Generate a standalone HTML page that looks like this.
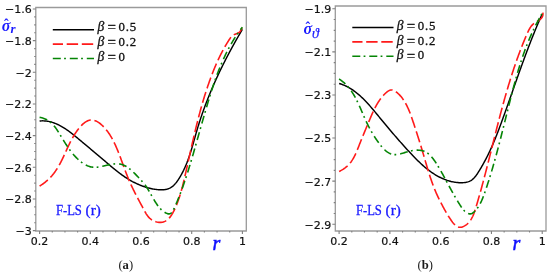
<!DOCTYPE html>
<html><head><meta charset="utf-8"><title>Stress distribution plots</title>
<style>
html,body{margin:0;padding:0;background:#fff;}
body{width:550px;height:277px;overflow:hidden;}
svg{display:block;}
.tl{font-family:"DejaVu Sans","Liberation Sans",sans-serif;font-size:11px;fill:#111;stroke:#111;stroke-width:0.2px;}
.lg{font-family:"Liberation Serif",serif;font-size:12.8px;fill:#111;stroke:#111;stroke-width:0.3px;}
.eq{font-size:15px;}
.num{letter-spacing:0.8px;}
.bt{font-style:italic;font-size:13.6px;}
.sg{font-family:"Liberation Serif",serif;font-style:italic;font-weight:bold;font-size:16px;fill:#1a1aff;}
.sub{font-family:"Liberation Serif",serif;font-style:italic;font-weight:bold;font-size:13px;fill:#1a1aff;}
.th{font-weight:normal;font-size:14px;stroke:#1a1aff;stroke-width:0.25px;}
.hat{font-family:"Liberation Serif",serif;font-weight:bold;font-size:14px;fill:#1a1aff;}
.rl{font-family:"Liberation Serif",serif;font-style:italic;font-size:20px;fill:#1010ff;stroke:#1010ff;stroke-width:0.5px;}
.fl{font-family:"Liberation Serif",serif;font-size:14.6px;fill:#1a1aff;stroke:#1a1aff;stroke-width:0.3px;}
.ab{font-family:"Liberation Serif",serif;font-size:12.6px;fill:#1a1a1a;}
.ab tspan{font-weight:bold;}
.cb{fill:none;stroke:#000;stroke-width:1.45;}
.cr{fill:none;stroke:#ff1a1a;stroke-width:1.6;stroke-dasharray:11.4 3.7;stroke-dashoffset:1.2;}
.cg{fill:none;stroke:#058505;stroke-width:1.6;stroke-dasharray:8 3.3 1.8 3.9;}
</style></head>
<body>
<svg width="550" height="277" viewBox="0 0 550 277">
<path d="M35.8,7.5 H246.3 V231.0 H35.8 Z" fill="none" stroke="#9a9a9a" stroke-width="1.3"/>
<path d="M32.8,9.00 h3.0 M34.2,16.92 h1.6 M34.2,24.83 h1.6 M34.2,32.74 h1.6 M32.8,40.66 h3.0 M34.2,48.58 h1.6 M34.2,56.49 h1.6 M34.2,64.41 h1.6 M32.8,72.32 h3.0 M34.2,80.24 h1.6 M34.2,88.15 h1.6 M34.2,96.07 h1.6 M32.8,103.98 h3.0 M34.2,111.89 h1.6 M34.2,119.81 h1.6 M34.2,127.73 h1.6 M32.8,135.64 h3.0 M34.2,143.56 h1.6 M34.2,151.47 h1.6 M34.2,159.39 h1.6 M32.8,167.30 h3.0 M34.2,175.22 h1.6 M34.2,183.13 h1.6 M34.2,191.04 h1.6 M32.8,198.96 h3.0 M34.2,206.88 h1.6 M34.2,214.79 h1.6 M34.2,222.71 h1.6 M32.8,230.62 h3.0 M39.60,231.0 v3.0 M52.27,231.0 v1.6 M64.95,231.0 v1.6 M77.62,231.0 v1.6 M90.30,231.0 v3.0 M102.97,231.0 v1.6 M115.65,231.0 v1.6 M128.33,231.0 v1.6 M141.00,231.0 v3.0 M153.68,231.0 v1.6 M166.35,231.0 v1.6 M179.03,231.0 v1.6 M191.70,231.0 v3.0 M204.38,231.0 v1.6 M217.05,231.0 v1.6 M229.72,231.0 v1.6 M242.40,231.0 v3.0" stroke="#808080" stroke-width="1.1" fill="none"/>
<text x="31.8" y="13.4" class="tl" text-anchor="end">−1.6</text>
<text x="31.8" y="45.1" class="tl" text-anchor="end">−1.8</text>
<text x="31.8" y="76.7" class="tl" text-anchor="end">−2</text>
<text x="31.8" y="108.4" class="tl" text-anchor="end">−2.2</text>
<text x="31.8" y="140.0" class="tl" text-anchor="end">−2.4</text>
<text x="31.8" y="171.7" class="tl" text-anchor="end">−2.6</text>
<text x="31.8" y="203.4" class="tl" text-anchor="end">−2.8</text>
<text x="31.8" y="235.0" class="tl" text-anchor="end">−3</text>
<text x="39.6" y="244.6" class="tl" text-anchor="middle">0.2</text>
<text x="90.3" y="244.6" class="tl" text-anchor="middle">0.4</text>
<text x="141.0" y="244.6" class="tl" text-anchor="middle">0.6</text>
<text x="191.7" y="244.6" class="tl" text-anchor="middle">0.8</text>
<text x="242.4" y="244.6" class="tl" text-anchor="middle">1</text>
<path d="M335.3,6.0 H546.0 V231.0 H335.3 Z" fill="none" stroke="#9a9a9a" stroke-width="1.3"/>
<path d="M332.3,8.80 h3.0 M333.7,19.57 h1.6 M333.7,30.34 h1.6 M333.7,41.11 h1.6 M332.3,51.88 h3.0 M333.7,62.65 h1.6 M333.7,73.42 h1.6 M333.7,84.19 h1.6 M332.3,94.96 h3.0 M333.7,105.73 h1.6 M333.7,116.50 h1.6 M333.7,127.27 h1.6 M332.3,138.04 h3.0 M333.7,148.81 h1.6 M333.7,159.58 h1.6 M333.7,170.35 h1.6 M332.3,181.12 h3.0 M333.7,191.89 h1.6 M333.7,202.66 h1.6 M333.7,213.43 h1.6 M332.3,224.20 h3.0 M339.10,231.0 v3.0 M351.80,231.0 v1.6 M364.49,231.0 v1.6 M377.19,231.0 v1.6 M389.88,231.0 v3.0 M402.58,231.0 v1.6 M415.27,231.0 v1.6 M427.97,231.0 v1.6 M440.66,231.0 v3.0 M453.36,231.0 v1.6 M466.05,231.0 v1.6 M478.75,231.0 v1.6 M491.44,231.0 v3.0 M504.14,231.0 v1.6 M516.83,231.0 v1.6 M529.53,231.0 v1.6 M542.22,231.0 v3.0" stroke="#808080" stroke-width="1.1" fill="none"/>
<text x="331.3" y="13.2" class="tl" text-anchor="end">−1.9</text>
<text x="331.3" y="56.3" class="tl" text-anchor="end">−2.1</text>
<text x="331.3" y="99.4" class="tl" text-anchor="end">−2.3</text>
<text x="331.3" y="142.4" class="tl" text-anchor="end">−2.5</text>
<text x="331.3" y="185.5" class="tl" text-anchor="end">−2.7</text>
<text x="331.3" y="228.6" class="tl" text-anchor="end">−2.9</text>
<text x="339.1" y="244.6" class="tl" text-anchor="middle">0.2</text>
<text x="389.9" y="244.6" class="tl" text-anchor="middle">0.4</text>
<text x="440.7" y="244.6" class="tl" text-anchor="middle">0.6</text>
<text x="491.4" y="244.6" class="tl" text-anchor="middle">0.8</text>
<text x="542.2" y="244.6" class="tl" text-anchor="middle">1</text>
<path d="M39.60,120.99 40.62,120.91 41.63,120.86 42.63,120.84 43.63,120.86 44.62,120.91 45.60,120.99 46.57,121.10 47.54,121.24 48.49,121.40 49.45,121.60 50.39,121.82 51.33,122.07 52.26,122.34 53.19,122.64 54.11,122.97 55.02,123.31 55.93,123.68 56.83,124.07 57.73,124.47 58.62,124.90 59.50,125.35 60.38,125.82 61.25,126.30 62.12,126.80 62.98,127.31 63.84,127.84 64.69,128.38 65.54,128.94 66.38,129.51 67.22,130.09 68.06,130.68 68.89,131.28 69.71,131.89 70.53,132.51 71.35,133.13 72.16,133.76 72.97,134.40 73.78,135.04 74.58,135.69 75.38,136.34 76.18,136.99 76.97,137.65 77.76,138.30 78.54,138.96 79.33,139.61 80.11,140.26 80.88,140.91 81.66,141.56 82.43,142.21 83.20,142.85 83.97,143.49 84.73,144.13 85.50,144.77 86.26,145.40 87.02,146.04 87.77,146.67 88.53,147.30 89.29,147.93 90.04,148.56 90.79,149.19 91.54,149.82 92.29,150.44 93.04,151.07 93.79,151.70 94.54,152.32 95.28,152.95 96.03,153.58 96.78,154.20 97.52,154.83 98.27,155.46 99.01,156.09 99.76,156.72 100.50,157.35 101.25,157.99 102.00,158.62 102.74,159.26 103.49,159.89 104.24,160.53 104.99,161.17 105.74,161.82 106.49,162.46 107.24,163.11 108.00,163.75 108.75,164.40 109.51,165.04 110.27,165.69 111.04,166.33 111.80,166.97 112.57,167.61 113.35,168.25 114.12,168.89 114.90,169.52 115.69,170.15 116.47,170.78 117.26,171.40 118.06,172.02 118.86,172.63 119.67,173.24 120.48,173.85 121.29,174.45 122.11,175.04 122.94,175.62 123.77,176.20 124.61,176.78 125.46,177.34 126.31,177.90 127.17,178.45 128.03,178.99 128.91,179.52 129.79,180.04 130.68,180.56 131.57,181.06 132.47,181.56 133.39,182.04 134.31,182.51 135.24,182.97 136.17,183.42 137.12,183.86 138.07,184.28 139.02,184.69 139.98,185.09 140.95,185.48 141.92,185.85 142.89,186.20 143.87,186.55 144.85,186.87 145.83,187.19 146.81,187.48 147.80,187.77 148.78,188.03 149.76,188.28 150.74,188.51 151.72,188.72 152.69,188.92 153.67,189.10 154.64,189.26 155.60,189.40 156.56,189.52 157.51,189.62 158.46,189.70 159.40,189.77 160.34,189.80 161.26,189.82 162.18,189.80 163.08,189.76 163.98,189.68 164.86,189.57 165.73,189.43 166.59,189.24 167.44,189.02 168.26,188.75 169.08,188.44 169.88,188.08 170.66,187.67 171.42,187.21 172.16,186.69 172.89,186.12 173.59,185.50 174.28,184.83 174.95,184.12 175.60,183.37 176.23,182.58 176.85,181.77 177.45,180.93 178.04,180.07 178.61,179.20 179.17,178.32 179.71,177.44 180.25,176.55 180.77,175.66 181.27,174.76 181.77,173.86 182.25,172.96 182.72,172.05 183.18,171.14 183.64,170.23 184.07,169.31 184.50,168.39 184.92,167.47 185.33,166.55 185.74,165.62 186.13,164.69 186.51,163.75 186.89,162.82 187.25,161.88 187.61,160.94 187.96,160.00 188.31,159.05 188.65,158.11 188.98,157.16 189.31,156.21 189.63,155.26 189.94,154.30 190.25,153.35 190.56,152.39 190.86,151.43 191.15,150.48 191.45,149.52 191.73,148.55 192.02,147.59 192.30,146.63 192.58,145.67 192.86,144.70 193.14,143.74 193.41,142.77 193.68,141.81 193.95,140.84 194.23,139.88 194.50,138.91 194.77,137.95 195.04,136.98 195.31,136.01 195.58,135.05 195.85,134.09 196.13,133.12 196.40,132.16 196.68,131.20 196.96,130.23 197.25,129.27 197.53,128.31 197.82,127.35 198.11,126.40 198.41,125.44 198.71,124.48 199.01,123.53 199.31,122.58 199.61,121.62 199.92,120.67 200.23,119.72 200.55,118.77 200.86,117.82 201.18,116.87 201.50,115.92 201.83,114.98 202.15,114.03 202.48,113.09 202.81,112.14 203.15,111.20 203.48,110.26 203.82,109.32 204.16,108.38 204.51,107.44 204.85,106.50 205.20,105.56 205.55,104.63 205.91,103.69 206.26,102.76 206.62,101.83 206.98,100.89 207.35,99.96 207.71,99.03 208.08,98.10 208.45,97.17 208.82,96.25 209.20,95.32 209.57,94.40 209.95,93.47 210.34,92.55 210.72,91.62 211.11,90.70 211.49,89.78 211.88,88.86 212.28,87.94 212.67,87.02 213.07,86.11 213.47,85.19 213.87,84.28 214.27,83.36 214.68,82.45 215.09,81.54 215.50,80.63 215.91,79.72 216.32,78.81 216.74,77.90 217.16,76.99 217.58,76.08 218.00,75.18 218.42,74.27 218.85,73.37 219.28,72.47 219.71,71.56 220.14,70.66 220.57,69.76 221.01,68.86 221.45,67.97 221.89,67.07 222.33,66.17 222.77,65.28 223.22,64.38 223.66,63.49 224.11,62.60 224.56,61.71 225.01,60.82 225.47,59.93 225.92,59.04 226.38,58.15 226.84,57.26 227.30,56.38 227.77,55.49 228.23,54.61 228.70,53.73 229.16,52.84 229.63,51.96 230.10,51.08 230.58,50.20 231.05,49.32 231.53,48.45 232.00,47.57 232.48,46.70 232.96,45.82 233.45,44.95 233.93,44.07 234.42,43.20 234.90,42.33 235.39,41.46 235.88,40.59 236.37,39.73 236.86,38.86 237.36,37.99 237.85,37.13 238.35,36.26 238.85,35.40 239.35,34.54 239.85,33.68 240.35,32.82 240.86,31.96 241.36,31.10 241.87,30.24 242.37,29.39" class="cb"/>
<path d="M39.60,186.02 40.52,185.47 41.42,184.90 42.29,184.32 43.14,183.73 43.97,183.13 44.79,182.51 45.58,181.88 46.35,181.24 47.11,180.58 47.84,179.92 48.56,179.24 49.26,178.56 49.95,177.86 50.62,177.15 51.27,176.43 51.91,175.71 52.53,174.97 53.14,174.22 53.74,173.47 54.32,172.70 54.88,171.93 55.44,171.14 55.98,170.35 56.52,169.56 57.04,168.75 57.55,167.94 58.05,167.12 58.54,166.29 59.02,165.46 59.49,164.61 59.95,163.77 60.41,162.91 60.86,162.06 61.30,161.19 61.74,160.32 62.17,159.45 62.59,158.57 63.01,157.69 63.43,156.80 63.84,155.91 64.25,155.01 64.67,154.11 65.08,153.21 65.49,152.30 65.90,151.40 66.31,150.49 66.73,149.57 67.15,148.66 67.57,147.74 68.00,146.82 68.44,145.90 68.88,144.98 69.32,144.06 69.78,143.14 70.24,142.22 70.72,141.29 71.20,140.37 71.70,139.45 72.20,138.53 72.72,137.61 73.25,136.69 73.80,135.77 74.36,134.86 74.94,133.94 75.53,133.03 76.14,132.12 76.76,131.22 77.41,130.32 78.06,129.44 78.74,128.57 79.42,127.73 80.12,126.90 80.83,126.11 81.56,125.35 82.30,124.62 83.04,123.93 83.80,123.28 84.57,122.68 85.35,122.13 86.13,121.63 86.92,121.19 87.72,120.81 88.53,120.49 89.34,120.25 90.16,120.07 90.98,119.97 91.81,119.95 92.64,120.02 93.47,120.16 94.30,120.37 95.13,120.65 95.95,120.99 96.77,121.40 97.59,121.85 98.40,122.36 99.20,122.91 99.98,123.50 100.76,124.13 101.52,124.78 102.27,125.47 102.99,126.17 103.70,126.89 104.40,127.63 105.08,128.38 105.74,129.15 106.38,129.94 107.01,130.74 107.63,131.55 108.22,132.38 108.81,133.22 109.38,134.07 109.94,134.93 110.48,135.81 111.01,136.69 111.53,137.58 112.04,138.48 112.54,139.39 113.02,140.30 113.49,141.22 113.96,142.15 114.41,143.08 114.85,144.01 115.29,144.95 115.71,145.89 116.13,146.83 116.54,147.77 116.94,148.71 117.34,149.66 117.73,150.60 118.11,151.54 118.48,152.48 118.85,153.41 119.22,154.35 119.58,155.28 119.93,156.22 120.29,157.15 120.64,158.08 120.98,159.01 121.32,159.94 121.66,160.87 122.00,161.79 122.34,162.72 122.67,163.64 123.01,164.56 123.34,165.49 123.68,166.41 124.01,167.33 124.35,168.25 124.68,169.16 125.02,170.08 125.36,171.00 125.70,171.91 126.05,172.83 126.40,173.74 126.75,174.65 127.11,175.57 127.47,176.48 127.84,177.39 128.21,178.30 128.58,179.21 128.97,180.11 129.36,181.02 129.75,181.93 130.15,182.84 130.56,183.74 130.97,184.65 131.39,185.55 131.82,186.45 132.25,187.36 132.68,188.26 133.12,189.16 133.56,190.06 134.01,190.97 134.46,191.87 134.91,192.77 135.37,193.67 135.83,194.57 136.30,195.47 136.77,196.37 137.24,197.26 137.71,198.16 138.18,199.06 138.66,199.96 139.14,200.85 139.61,201.75 140.10,202.65 140.58,203.54 141.06,204.44 141.54,205.34 142.03,206.23 142.51,207.13 142.99,208.02 143.48,208.92 143.96,209.81 144.44,210.71 144.93,211.60 145.43,212.48 145.94,213.35 146.47,214.20 147.02,215.03 147.60,215.84 148.21,216.62 148.87,217.37 149.56,218.08 150.30,218.75 151.10,219.38 151.95,219.96 152.86,220.49 153.83,220.96 154.83,221.38 155.87,221.73 156.92,222.01 157.97,222.22 159.02,222.36 160.03,222.41 161.01,222.39 161.96,222.28 162.86,222.10 163.74,221.84 164.58,221.52 165.38,221.13 166.16,220.68 166.91,220.18 167.62,219.61 168.31,219.00 168.98,218.34 169.61,217.63 170.23,216.88 170.82,216.10 171.38,215.28 171.93,214.43 172.45,213.56 172.96,212.66 173.45,211.75 173.92,210.81 174.38,209.87 174.83,208.92 175.26,207.96 175.67,207.00 176.08,206.04 176.48,205.08 176.86,204.12 177.24,203.16 177.60,202.20 177.96,201.24 178.31,200.28 178.65,199.32 178.97,198.36 179.30,197.40 179.61,196.44 179.91,195.48 180.21,194.52 180.50,193.56 180.79,192.60 181.06,191.65 181.34,190.69 181.60,189.73 181.86,188.77 182.12,187.81 182.37,186.85 182.62,185.89 182.86,184.93 183.10,183.97 183.33,183.00 183.57,182.04 183.80,181.08 184.02,180.12 184.25,179.16 184.47,178.19 184.69,177.23 184.91,176.26 185.13,175.30 185.35,174.33 185.57,173.37 185.79,172.40 186.01,171.44 186.23,170.47 186.44,169.50 186.66,168.53 186.88,167.56 187.09,166.59 187.31,165.63 187.53,164.66 187.74,163.69 187.96,162.71 188.18,161.74 188.39,160.77 188.61,159.80 188.82,158.83 189.04,157.86 189.26,156.89 189.47,155.91 189.69,154.94 189.91,153.97 190.12,152.99 190.34,152.02 190.56,151.05 190.77,150.07 190.99,149.10 191.21,148.13 191.43,147.15 191.65,146.18 191.87,145.20 192.09,144.23 192.31,143.26 192.54,142.28 192.76,141.31 192.98,140.33 193.21,139.36 193.43,138.38 193.66,137.41 193.89,136.44 194.11,135.46 194.34,134.49 194.57,133.51 194.80,132.54 195.03,131.57 195.27,130.59 195.50,129.62 195.73,128.65 195.97,127.68 196.21,126.70 196.45,125.73 196.69,124.76 196.93,123.79 197.17,122.82 197.41,121.85 197.66,120.88 197.91,119.90 198.15,118.93 198.40,117.97 198.66,117.00 198.91,116.03 199.16,115.06 199.42,114.09 199.68,113.12 199.94,112.16 200.20,111.19 200.46,110.22 200.73,109.26 200.99,108.29 201.26,107.33 201.53,106.37 201.81,105.40 202.08,104.44 202.36,103.48 202.64,102.52 202.92,101.56 203.20,100.59 203.49,99.64 203.77,98.68 204.06,97.72 204.36,96.76 204.65,95.80 204.95,94.85 205.25,93.89 205.55,92.94 205.85,91.99 206.16,91.03 206.47,90.08 206.78,89.13 207.10,88.18 207.41,87.23 207.73,86.28 208.06,85.34 208.38,84.39 208.71,83.44 209.04,82.50 209.37,81.56 209.71,80.61 210.05,79.67 210.39,78.73 210.74,77.79 211.09,76.85 211.44,75.92 211.79,74.98 212.15,74.04 212.51,73.11 212.88,72.18 213.25,71.25 213.62,70.32 213.99,69.39 214.37,68.46 214.76,67.54 215.14,66.62 215.54,65.70 215.93,64.78 216.33,63.86 216.73,62.94 217.14,62.03 217.56,61.12 217.97,60.21 218.39,59.30 218.82,58.40 219.25,57.50 219.69,56.60 220.13,55.70 220.57,54.81 221.02,53.92 221.48,53.03 221.94,52.14 222.40,51.26 222.88,50.37 223.35,49.50 223.84,48.62 224.32,47.75 224.82,46.88 225.32,46.02 225.82,45.15 226.33,44.29 226.85,43.44 227.37,42.59 227.90,41.74 228.44,40.89 228.98,40.05 229.53,39.21 230.09,38.39 230.67,37.60 231.28,36.85 231.93,36.16 232.63,35.55 233.38,35.03 234.18,34.60 235.02,34.24 235.88,33.91 236.74,33.58 237.58,33.23 238.38,32.83 239.13,32.35 239.80,31.75 240.38,31.03 240.89,30.22 241.34,29.31 241.72,28.34 242.05,27.32 242.34,26.26 242.59,25.19" class="cr"/>
<path d="M39.59,117.39 40.68,117.58 41.74,117.81 42.75,118.09 43.73,118.40 44.67,118.75 45.58,119.15 46.45,119.58 47.30,120.04 48.12,120.54 48.91,121.07 49.67,121.63 50.40,122.21 51.12,122.83 51.81,123.48 52.48,124.15 53.13,124.84 53.76,125.55 54.38,126.29 54.98,127.05 55.57,127.82 56.14,128.61 56.70,129.42 57.26,130.24 57.80,131.07 58.34,131.92 58.88,132.77 59.41,133.63 59.94,134.50 60.46,135.38 60.99,136.26 61.52,137.14 62.05,138.03 62.59,138.91 63.13,139.80 63.67,140.68 64.22,141.56 64.77,142.44 65.33,143.32 65.90,144.19 66.47,145.06 67.04,145.93 67.62,146.79 68.21,147.64 68.80,148.49 69.41,149.33 70.01,150.16 70.63,150.98 71.25,151.79 71.88,152.59 72.52,153.38 73.17,154.16 73.82,154.92 74.48,155.67 75.16,156.41 75.84,157.14 76.53,157.84 77.23,158.54 77.94,159.21 78.66,159.87 79.39,160.51 80.14,161.14 80.89,161.74 81.65,162.32 82.43,162.88 83.22,163.42 84.01,163.94 84.83,164.42 85.65,164.88 86.48,165.30 87.33,165.69 88.20,166.04 89.07,166.35 89.96,166.62 90.86,166.85 91.78,167.03 92.71,167.16 93.65,167.25 94.61,167.28 95.59,167.27 96.57,167.21 97.56,167.12 98.57,167.00 99.58,166.84 100.60,166.67 101.63,166.47 102.66,166.25 103.70,166.03 104.74,165.79 105.78,165.55 106.82,165.31 107.86,165.07 108.90,164.85 109.94,164.63 110.98,164.43 112.01,164.25 113.04,164.10 114.06,163.97 115.07,163.88 116.07,163.83 117.06,163.81 118.04,163.84 119.01,163.92 119.97,164.06 120.91,164.25 121.84,164.49 122.75,164.80 123.65,165.16 124.54,165.56 125.41,166.01 126.27,166.51 127.11,167.04 127.94,167.60 128.76,168.20 129.56,168.82 130.35,169.47 131.13,170.14 131.90,170.83 132.66,171.54 133.40,172.25 134.14,172.97 134.86,173.69 135.57,174.42 136.27,175.14 136.96,175.85 137.64,176.56 138.31,177.25 138.97,177.94 139.62,178.62 140.26,179.30 140.89,179.99 141.51,180.67 142.13,181.36 142.73,182.06 143.33,182.77 143.92,183.49 144.50,184.23 145.08,184.99 145.64,185.76 146.20,186.57 146.76,187.40 147.31,188.25 147.85,189.12 148.39,190.01 148.92,190.92 149.46,191.84 149.99,192.78 150.53,193.72 151.06,194.68 151.60,195.63 152.14,196.59 152.68,197.55 153.23,198.50 153.79,199.45 154.35,200.40 154.92,201.33 155.50,202.25 156.09,203.16 156.69,204.05 157.30,204.92 157.92,205.77 158.56,206.59 159.21,207.39 159.88,208.16 160.57,208.90 161.27,209.60 161.99,210.27 162.73,210.90 163.49,211.49 164.28,212.04 165.08,212.54 165.91,212.99 166.75,213.38 167.57,213.66 168.38,213.84 169.14,213.87 169.84,213.74 170.49,213.47 171.09,213.06 171.64,212.54 172.16,211.91 172.65,211.20 173.11,210.42 173.54,209.59 173.97,208.72 174.38,207.82 174.78,206.92 175.19,206.02 175.59,205.11 175.99,204.20 176.38,203.29 176.77,202.37 177.16,201.45 177.54,200.53 177.92,199.60 178.30,198.68 178.67,197.74 179.05,196.81 179.41,195.88 179.78,194.94 180.14,194.00 180.50,193.06 180.86,192.11 181.21,191.17 181.57,190.22 181.91,189.27 182.26,188.32 182.60,187.37 182.95,186.41 183.28,185.45 183.62,184.50 183.96,183.54 184.29,182.57 184.62,181.61 184.94,180.65 185.27,179.68 185.59,178.72 185.91,177.75 186.23,176.78 186.54,175.81 186.86,174.85 187.17,173.87 187.48,172.90 187.79,171.93 188.10,170.96 188.40,169.99 188.70,169.02 189.00,168.04 189.30,167.07 189.60,166.10 189.90,165.12 190.19,164.15 190.49,163.17 190.78,162.20 191.07,161.23 191.36,160.26 191.64,159.28 191.93,158.31 192.22,157.34 192.50,156.37 192.78,155.40 193.06,154.43 193.34,153.46 193.62,152.49 193.90,151.52 194.18,150.56 194.46,149.59 194.73,148.63 195.01,147.67 195.28,146.71 195.55,145.75 195.83,144.79 196.10,143.83 196.37,142.87 196.64,141.92 196.91,140.97 197.18,140.01 197.45,139.06 197.72,138.11 197.99,137.16 198.25,136.21 198.52,135.27 198.79,134.32 199.06,133.37 199.33,132.43 199.59,131.48 199.86,130.54 200.13,129.59 200.39,128.65 200.66,127.70 200.93,126.76 201.20,125.82 201.46,124.87 201.73,123.93 202.00,122.99 202.27,122.04 202.54,121.10 202.81,120.15 203.08,119.21 203.35,118.26 203.62,117.32 203.89,116.37 204.16,115.42 204.43,114.48 204.71,113.53 204.98,112.58 205.26,111.63 205.53,110.68 205.81,109.73 206.09,108.77 206.37,107.82 206.65,106.87 206.93,105.91 207.21,104.95 207.49,104.00 207.78,103.04 208.06,102.08 208.35,101.12 208.64,100.16 208.93,99.20 209.22,98.24 209.51,97.28 209.81,96.32 210.11,95.36 210.40,94.40 210.71,93.44 211.01,92.48 211.31,91.52 211.62,90.56 211.93,89.60 212.24,88.64 212.55,87.68 212.87,86.73 213.19,85.77 213.51,84.81 213.83,83.85 214.15,82.90 214.48,81.94 214.81,80.99 215.15,80.04 215.48,79.09 215.82,78.14 216.16,77.19 216.51,76.24 216.86,75.29 217.21,74.35 217.56,73.40 217.92,72.46 218.28,71.52 218.64,70.58 219.01,69.64 219.38,68.71 219.76,67.77 220.13,66.84 220.52,65.91 220.90,64.98 221.29,64.06 221.68,63.13 222.08,62.21 222.48,61.29 222.88,60.38 223.29,59.46 223.71,58.55 224.12,57.64 224.54,56.74 224.97,55.83 225.40,54.93 225.83,54.03 226.27,53.14 226.71,52.25 227.16,51.36 227.61,50.47 228.07,49.59 228.53,48.71 229.00,47.83 229.47,46.96 229.95,46.09 230.43,45.23 230.91,44.36 231.40,43.51 231.90,42.65 232.40,41.80 232.91,40.95 233.42,40.11 233.94,39.27 234.46,38.44 234.99,37.60 235.53,36.78 236.07,35.95 236.61,35.14 237.17,34.32 237.72,33.51 238.29,32.71 238.86,31.91 239.43,31.11 240.01,30.32 240.60,29.54 241.19,28.76 241.79,27.98 242.40,27.21" class="cg"/>
<path d="M339.11,83.50 340.05,83.77 340.97,84.06 341.89,84.37 342.79,84.71 343.69,85.06 344.58,85.44 345.46,85.84 346.33,86.25 347.20,86.69 348.05,87.14 348.90,87.61 349.75,88.10 350.58,88.60 351.41,89.13 352.23,89.66 353.04,90.22 353.85,90.79 354.64,91.37 355.44,91.97 356.22,92.58 357.00,93.20 357.77,93.84 358.54,94.49 359.30,95.15 360.06,95.82 360.81,96.50 361.55,97.19 362.29,97.89 363.02,98.60 363.75,99.32 364.47,100.05 365.19,100.79 365.90,101.53 366.61,102.28 367.31,103.03 368.01,103.79 368.70,104.56 369.39,105.33 370.08,106.11 370.76,106.89 371.44,107.67 372.11,108.46 372.79,109.24 373.45,110.03 374.12,110.83 374.78,111.62 375.44,112.41 376.09,113.20 376.74,113.99 377.39,114.78 378.04,115.57 378.68,116.36 379.32,117.15 379.96,117.93 380.60,118.71 381.24,119.48 381.87,120.25 382.51,121.02 383.14,121.78 383.77,122.54 384.39,123.30 385.02,124.06 385.65,124.81 386.27,125.56 386.90,126.31 387.52,127.05 388.15,127.79 388.77,128.53 389.39,129.27 390.01,130.01 390.64,130.74 391.26,131.48 391.88,132.21 392.51,132.94 393.13,133.67 393.76,134.39 394.38,135.12 395.01,135.85 395.64,136.57 396.27,137.30 396.90,138.02 397.53,138.75 398.16,139.47 398.80,140.19 399.43,140.92 400.07,141.64 400.71,142.36 401.36,143.09 402.00,143.81 402.65,144.54 403.30,145.26 403.95,145.99 404.61,146.72 405.27,147.45 405.93,148.18 406.60,148.91 407.26,149.64 407.94,150.38 408.61,151.11 409.29,151.85 409.98,152.59 410.66,153.33 411.36,154.07 412.05,154.81 412.75,155.55 413.46,156.29 414.17,157.03 414.88,157.76 415.60,158.49 416.32,159.22 417.05,159.95 417.78,160.67 418.52,161.39 419.26,162.10 420.01,162.81 420.76,163.51 421.52,164.21 422.28,164.90 423.05,165.59 423.83,166.27 424.61,166.94 425.40,167.60 426.19,168.25 426.99,168.90 427.80,169.54 428.61,170.16 429.43,170.78 430.25,171.38 431.09,171.98 431.92,172.56 432.77,173.14 433.62,173.70 434.48,174.24 435.35,174.78 436.22,175.30 437.10,175.81 437.99,176.30 438.89,176.78 439.79,177.24 440.70,177.69 441.62,178.12 442.54,178.53 443.47,178.93 444.41,179.31 445.35,179.67 446.29,180.02 447.25,180.35 448.20,180.65 449.16,180.94 450.13,181.21 451.10,181.46 452.07,181.68 453.05,181.89 454.03,182.08 455.01,182.24 455.99,182.38 456.97,182.50 457.95,182.59 458.92,182.66 459.88,182.71 460.83,182.73 461.76,182.73 462.68,182.70 463.59,182.64 464.47,182.56 465.34,182.45 466.19,182.31 467.02,182.12 467.83,181.90 468.63,181.63 469.41,181.32 470.17,180.95 470.92,180.53 471.65,180.05 472.37,179.51 473.07,178.90 473.76,178.24 474.43,177.52 475.09,176.75 475.74,175.94 476.37,175.09 476.99,174.22 477.60,173.32 478.20,172.41 478.79,171.48 479.36,170.55 479.92,169.62 480.48,168.70 481.02,167.78 481.56,166.86 482.08,165.96 482.60,165.05 483.11,164.15 483.61,163.25 484.10,162.36 484.59,161.46 485.07,160.57 485.54,159.68 486.01,158.79 486.47,157.89 486.93,157.00 487.38,156.10 487.82,155.21 488.26,154.31 488.70,153.41 489.13,152.51 489.56,151.61 489.98,150.71 490.40,149.80 490.81,148.90 491.22,147.99 491.63,147.08 492.03,146.17 492.43,145.26 492.82,144.35 493.22,143.44 493.60,142.53 493.99,141.61 494.37,140.70 494.75,139.78 495.13,138.86 495.50,137.94 495.87,137.03 496.24,136.10 496.60,135.18 496.96,134.26 497.32,133.34 497.68,132.42 498.04,131.49 498.39,130.57 498.74,129.64 499.09,128.71 499.44,127.79 499.79,126.86 500.14,125.93 500.48,125.00 500.83,124.07 501.17,123.14 501.51,122.21 501.85,121.28 502.19,120.35 502.53,119.41 502.87,118.48 503.21,117.55 503.54,116.61 503.88,115.68 504.22,114.74 504.56,113.81 504.89,112.87 505.23,111.93 505.56,111.00 505.90,110.06 506.23,109.12 506.56,108.19 506.90,107.25 507.23,106.31 507.56,105.37 507.90,104.43 508.23,103.49 508.56,102.55 508.89,101.61 509.22,100.67 509.56,99.73 509.89,98.79 510.22,97.85 510.55,96.91 510.88,95.97 511.21,95.03 511.54,94.09 511.87,93.14 512.21,92.20 512.54,91.26 512.87,90.32 513.20,89.38 513.53,88.44 513.86,87.49 514.19,86.55 514.52,85.61 514.86,84.67 515.19,83.72 515.52,82.78 515.85,81.84 516.19,80.90 516.52,79.96 516.85,79.01 517.19,78.07 517.52,77.13 517.85,76.19 518.19,75.25 518.52,74.30 518.86,73.36 519.20,72.42 519.53,71.48 519.87,70.54 520.21,69.60 520.55,68.66 520.88,67.72 521.22,66.78 521.56,65.84 521.90,64.90 522.24,63.96 522.59,63.02 522.93,62.08 523.27,61.14 523.61,60.20 523.96,59.27 524.30,58.33 524.65,57.39 525.00,56.45 525.34,55.52 525.69,54.58 526.04,53.65 526.39,52.71 526.74,51.78 527.10,50.84 527.45,49.91 527.80,48.98 528.16,48.04 528.51,47.11 528.87,46.18 529.23,45.25 529.59,44.32 529.95,43.39 530.31,42.46 530.67,41.53 531.04,40.60 531.40,39.67 531.77,38.74 532.13,37.82 532.50,36.89 532.87,35.97 533.24,35.04 533.62,34.12 533.99,33.20 534.37,32.27 534.74,31.35 535.12,30.43 535.50,29.51 535.88,28.59 536.26,27.67 536.65,26.75 537.03,25.84 537.42,24.92 537.81,24.01 538.20,23.09 538.59,22.18 538.98,21.26 539.37,20.35 539.77,19.44 540.17,18.53 540.57,17.62 540.97,16.71 541.37,15.81 541.78,14.90 542.18,14.00" class="cb"/>
<path d="M339.10,171.43 340.13,170.93 341.11,170.42 342.06,169.88 342.97,169.33 343.84,168.76 344.68,168.17 345.48,167.57 346.24,166.94 346.98,166.31 347.68,165.65 348.36,164.98 349.01,164.29 349.63,163.59 350.22,162.88 350.79,162.15 351.34,161.41 351.87,160.65 352.38,159.88 352.86,159.10 353.33,158.31 353.79,157.50 354.23,156.69 354.65,155.86 355.06,155.03 355.47,154.18 355.86,153.32 356.24,152.46 356.62,151.58 356.99,150.70 357.35,149.81 357.72,148.91 358.08,148.00 358.44,147.09 358.80,146.17 359.16,145.24 359.52,144.31 359.89,143.38 360.27,142.44 360.64,141.49 361.02,140.54 361.41,139.59 361.80,138.63 362.19,137.67 362.58,136.71 362.97,135.75 363.37,134.78 363.77,133.82 364.17,132.85 364.57,131.88 364.97,130.92 365.37,129.95 365.78,128.98 366.18,128.02 366.58,127.05 366.99,126.09 367.39,125.13 367.79,124.18 368.19,123.22 368.59,122.28 368.98,121.33 369.38,120.39 369.77,119.45 370.16,118.52 370.55,117.60 370.94,116.67 371.33,115.76 371.73,114.85 372.12,113.94 372.52,113.04 372.93,112.15 373.33,111.25 373.75,110.37 374.18,109.49 374.61,108.61 375.05,107.74 375.50,106.88 375.97,106.02 376.44,105.16 376.93,104.31 377.44,103.47 377.96,102.63 378.49,101.79 379.05,100.97 379.62,100.14 380.21,99.32 380.82,98.51 381.45,97.70 382.11,96.90 382.79,96.10 383.49,95.30 384.22,94.52 384.97,93.74 385.74,92.99 386.53,92.28 387.34,91.63 388.16,91.07 388.99,90.60 389.83,90.25 390.67,90.02 391.51,89.95 392.35,90.04 393.18,90.27 394.00,90.62 394.81,91.06 395.61,91.57 396.38,92.14 397.13,92.74 397.87,93.36 398.58,94.01 399.27,94.68 399.94,95.38 400.59,96.09 401.22,96.83 401.83,97.59 402.43,98.37 403.00,99.17 403.56,99.98 404.11,100.81 404.63,101.66 405.15,102.53 405.65,103.40 406.13,104.29 406.60,105.20 407.06,106.11 407.50,107.04 407.94,107.98 408.36,108.92 408.77,109.87 409.17,110.83 409.57,111.80 409.95,112.77 410.32,113.75 410.69,114.73 411.05,115.72 411.40,116.71 411.74,117.69 412.08,118.68 412.42,119.67 412.75,120.66 413.07,121.64 413.40,122.62 413.72,123.60 414.03,124.57 414.35,125.54 414.66,126.50 414.97,127.46 415.28,128.41 415.59,129.36 415.90,130.30 416.20,131.24 416.51,132.17 416.81,133.11 417.11,134.04 417.41,134.97 417.71,135.89 418.01,136.82 418.30,137.74 418.60,138.66 418.89,139.59 419.18,140.51 419.47,141.43 419.76,142.36 420.05,143.28 420.34,144.21 420.63,145.14 420.91,146.07 421.20,147.01 421.48,147.95 421.76,148.89 422.05,149.83 422.33,150.78 422.61,151.73 422.89,152.69 423.17,153.64 423.45,154.60 423.73,155.57 424.01,156.53 424.29,157.50 424.58,158.47 424.86,159.44 425.14,160.41 425.42,161.38 425.71,162.36 425.99,163.33 426.28,164.31 426.57,165.28 426.86,166.26 427.15,167.23 427.44,168.21 427.74,169.18 428.03,170.15 428.33,171.13 428.63,172.10 428.94,173.07 429.24,174.03 429.55,175.00 429.86,175.96 430.18,176.92 430.49,177.88 430.81,178.84 431.14,179.79 431.47,180.74 431.80,181.69 432.13,182.63 432.47,183.57 432.81,184.50 433.16,185.43 433.51,186.36 433.86,187.28 434.22,188.20 434.59,189.11 434.96,190.01 435.33,190.91 435.71,191.80 436.09,192.69 436.48,193.57 436.88,194.45 437.28,195.33 437.68,196.20 438.09,197.07 438.51,197.94 438.93,198.81 439.36,199.68 439.80,200.56 440.24,201.43 440.69,202.31 441.15,203.20 441.61,204.08 442.08,204.98 442.56,205.88 443.04,206.79 443.53,207.70 444.03,208.61 444.54,209.53 445.05,210.45 445.58,211.38 446.11,212.30 446.64,213.22 447.19,214.14 447.75,215.06 448.31,215.97 448.88,216.88 449.47,217.79 450.06,218.68 450.66,219.57 451.26,220.45 451.88,221.32 452.51,222.16 453.16,222.96 453.82,223.73 454.49,224.44 455.18,225.09 455.89,225.68 456.62,226.19 457.37,226.61 458.14,226.94 458.94,227.17 459.76,227.29 460.60,227.28 461.48,227.16 462.36,226.91 463.25,226.57 464.12,226.16 464.97,225.68 465.77,225.16 466.53,224.60 467.26,224.00 467.95,223.36 468.60,222.69 469.22,221.98 469.80,221.24 470.36,220.46 470.89,219.67 471.39,218.84 471.86,217.99 472.31,217.12 472.74,216.22 473.15,215.31 473.54,214.38 473.92,213.43 474.27,212.47 474.62,211.50 474.95,210.52 475.27,209.53 475.59,208.54 475.89,207.54 476.19,206.54 476.49,205.54 476.79,204.54 477.08,203.54 477.37,202.54 477.66,201.54 477.95,200.55 478.24,199.56 478.52,198.56 478.81,197.57 479.09,196.58 479.37,195.59 479.65,194.61 479.92,193.62 480.20,192.63 480.47,191.65 480.75,190.67 481.02,189.68 481.29,188.70 481.56,187.72 481.82,186.75 482.09,185.77 482.35,184.79 482.62,183.81 482.88,182.84 483.14,181.87 483.40,180.89 483.66,179.92 483.91,178.95 484.17,177.98 484.43,177.01 484.68,176.04 484.94,175.07 485.19,174.10 485.44,173.13 485.69,172.17 485.94,171.20 486.19,170.24 486.44,169.27 486.69,168.31 486.93,167.34 487.18,166.38 487.43,165.42 487.67,164.46 487.92,163.49 488.16,162.53 488.40,161.57 488.65,160.61 488.89,159.65 489.13,158.69 489.37,157.73 489.61,156.78 489.85,155.82 490.09,154.86 490.34,153.90 490.58,152.94 490.82,151.98 491.06,151.03 491.29,150.07 491.53,149.11 491.77,148.15 492.01,147.20 492.25,146.24 492.49,145.28 492.73,144.32 492.97,143.37 493.21,142.41 493.45,141.45 493.69,140.50 493.93,139.54 494.17,138.58 494.41,137.62 494.65,136.66 494.89,135.71 495.13,134.75 495.37,133.79 495.62,132.83 495.86,131.87 496.10,130.91 496.34,129.95 496.59,128.99 496.83,128.03 497.08,127.07 497.32,126.11 497.57,125.15 497.82,124.18 498.06,123.22 498.31,122.26 498.56,121.29 498.81,120.33 499.06,119.37 499.31,118.40 499.56,117.44 499.82,116.47 500.07,115.50 500.33,114.54 500.58,113.57 500.84,112.61 501.10,111.64 501.35,110.67 501.61,109.70 501.87,108.74 502.13,107.77 502.40,106.80 502.66,105.84 502.92,104.87 503.19,103.90 503.46,102.93 503.72,101.97 503.99,101.00 504.26,100.03 504.53,99.06 504.81,98.10 505.08,97.13 505.35,96.16 505.63,95.20 505.91,94.23 506.18,93.26 506.46,92.30 506.74,91.33 507.03,90.37 507.31,89.40 507.60,88.44 507.88,87.47 508.17,86.51 508.46,85.55 508.75,84.58 509.04,83.62 509.33,82.66 509.63,81.70 509.93,80.73 510.22,79.77 510.52,78.81 510.83,77.85 511.13,76.89 511.43,75.93 511.74,74.98 512.05,74.02 512.36,73.06 512.67,72.11 512.98,71.15 513.29,70.20 513.61,69.24 513.93,68.29 514.25,67.34 514.57,66.39 514.89,65.44 515.22,64.49 515.54,63.54 515.87,62.59 516.20,61.64 516.54,60.70 516.87,59.75 517.21,58.81 517.55,57.86 517.89,56.92 518.23,55.98 518.57,55.04 518.92,54.10 519.27,53.16 519.62,52.23 519.97,51.29 520.33,50.36 520.68,49.43 521.04,48.49 521.41,47.56 521.77,46.63 522.14,45.71 522.50,44.78 522.87,43.85 523.25,42.93 523.62,42.01 524.00,41.09 524.38,40.17 524.76,39.25 525.14,38.33 525.53,37.42 525.92,36.50 526.31,35.59 526.70,34.68 527.10,33.77 527.50,32.86 527.91,31.96 528.33,31.07 528.76,30.19 529.22,29.33 529.70,28.49 530.20,27.67 530.74,26.87 531.31,26.10 531.92,25.37 532.57,24.67 533.27,24.01 534.03,23.39 534.83,22.81 535.68,22.27 536.55,21.75 537.43,21.24 538.30,20.72 539.15,20.18 539.95,19.61 540.70,18.98 541.36,18.29 541.93,17.53 542.39,16.67 542.72,15.70 542.90,14.62 542.92,13.40 542.76,12.03 542.40,10.50" class="cr"/>
<path d="M339.09,79.00 339.97,79.57 340.82,80.17 341.64,80.78 342.45,81.40 343.23,82.05 344.00,82.71 344.74,83.38 345.46,84.07 346.17,84.77 346.86,85.49 347.53,86.22 348.18,86.96 348.81,87.71 349.43,88.48 350.03,89.26 350.62,90.05 351.20,90.85 351.76,91.66 352.30,92.48 352.84,93.31 353.36,94.15 353.87,95.00 354.37,95.85 354.86,96.72 355.34,97.59 355.80,98.46 356.26,99.35 356.72,100.23 357.16,101.13 357.60,102.03 358.03,102.93 358.45,103.84 358.87,104.75 359.29,105.67 359.70,106.59 360.10,107.51 360.51,108.43 360.91,109.35 361.30,110.27 361.70,111.20 362.10,112.12 362.49,113.05 362.89,113.97 363.28,114.89 363.68,115.82 364.08,116.73 364.48,117.65 364.89,118.56 365.30,119.47 365.71,120.38 366.12,121.28 366.55,122.18 366.97,123.07 367.40,123.96 367.84,124.85 368.28,125.74 368.73,126.62 369.19,127.50 369.65,128.37 370.12,129.24 370.59,130.11 371.08,130.98 371.57,131.84 372.07,132.71 372.57,133.57 373.09,134.43 373.61,135.28 374.15,136.14 374.69,136.99 375.24,137.84 375.81,138.69 376.38,139.54 376.96,140.39 377.56,141.23 378.16,142.08 378.78,142.92 379.41,143.76 380.05,144.60 380.70,145.42 381.36,146.24 382.04,147.03 382.73,147.81 383.43,148.56 384.15,149.29 384.88,149.98 385.63,150.64 386.39,151.27 387.16,151.85 387.95,152.38 388.75,152.87 389.57,153.31 390.41,153.69 391.26,154.01 392.13,154.26 393.01,154.45 393.91,154.57 394.83,154.62 395.76,154.61 396.71,154.54 397.67,154.41 398.64,154.24 399.62,154.03 400.62,153.79 401.62,153.52 402.63,153.23 403.64,152.93 404.66,152.62 405.68,152.30 406.71,152.00 407.73,151.70 408.76,151.42 409.79,151.17 410.81,150.93 411.83,150.73 412.85,150.55 413.86,150.40 414.86,150.28 415.85,150.20 416.84,150.16 417.81,150.15 418.78,150.18 419.73,150.26 420.66,150.38 421.58,150.54 422.49,150.76 423.38,151.02 424.24,151.34 425.09,151.71 425.92,152.14 426.73,152.62 427.51,153.15 428.28,153.73 429.02,154.36 429.75,155.02 430.46,155.73 431.16,156.47 431.83,157.23 432.49,158.03 433.14,158.85 433.77,159.69 434.39,160.54 434.99,161.41 435.58,162.29 436.16,163.18 436.72,164.07 437.27,164.96 437.82,165.85 438.35,166.73 438.88,167.61 439.39,168.48 439.90,169.35 440.40,170.21 440.89,171.07 441.38,171.92 441.86,172.78 442.34,173.63 442.81,174.48 443.28,175.32 443.74,176.17 444.20,177.02 444.66,177.86 445.12,178.71 445.58,179.56 446.04,180.41 446.49,181.26 446.95,182.11 447.40,182.96 447.86,183.82 448.32,184.67 448.78,185.53 449.24,186.39 449.70,187.25 450.17,188.12 450.64,188.98 451.11,189.85 451.59,190.72 452.07,191.59 452.56,192.47 453.05,193.35 453.54,194.23 454.05,195.12 454.55,196.01 455.07,196.90 455.59,197.80 456.12,198.70 456.66,199.61 457.21,200.52 457.76,201.43 458.32,202.35 458.90,203.27 459.48,204.20 460.07,205.13 460.68,206.06 461.29,206.97 461.92,207.86 462.56,208.72 463.21,209.55 463.87,210.33 464.55,211.05 465.24,211.71 465.94,212.31 466.66,212.82 467.39,213.25 468.13,213.58 468.89,213.81 469.65,213.91 470.42,213.89 471.18,213.74 471.94,213.44 472.70,213.01 473.44,212.49 474.17,211.87 474.87,211.18 475.56,210.44 476.22,209.67 476.85,208.88 477.45,208.07 478.03,207.25 478.58,206.41 479.10,205.57 479.60,204.71 480.08,203.84 480.54,202.96 480.98,202.07 481.41,201.17 481.82,200.26 482.21,199.35 482.59,198.43 482.96,197.50 483.32,196.57 483.67,195.63 484.01,194.69 484.35,193.75 484.68,192.80 485.01,191.86 485.33,190.91 485.66,189.96 485.98,189.02 486.30,188.07 486.62,187.12 486.93,186.17 487.25,185.21 487.56,184.26 487.87,183.31 488.18,182.35 488.48,181.40 488.79,180.44 489.09,179.49 489.39,178.53 489.69,177.58 489.99,176.62 490.28,175.66 490.57,174.70 490.86,173.74 491.15,172.78 491.44,171.82 491.73,170.86 492.01,169.90 492.30,168.93 492.58,167.97 492.86,167.01 493.14,166.04 493.42,165.08 493.69,164.11 493.97,163.15 494.24,162.18 494.51,161.22 494.78,160.25 495.05,159.28 495.32,158.31 495.59,157.35 495.85,156.38 496.12,155.41 496.38,154.44 496.64,153.47 496.91,152.50 497.17,151.53 497.43,150.56 497.68,149.59 497.94,148.62 498.20,147.65 498.45,146.68 498.71,145.71 498.96,144.73 499.21,143.76 499.47,142.79 499.72,141.82 499.97,140.84 500.22,139.87 500.47,138.90 500.72,137.93 500.96,136.95 501.21,135.98 501.46,135.01 501.70,134.03 501.95,133.06 502.20,132.09 502.44,131.11 502.69,130.14 502.93,129.17 503.17,128.19 503.42,127.22 503.66,126.25 503.90,125.27 504.15,124.30 504.39,123.33 504.63,122.35 504.87,121.38 505.11,120.41 505.36,119.43 505.60,118.46 505.84,117.49 506.08,116.52 506.32,115.54 506.56,114.57 506.81,113.60 507.05,112.63 507.29,111.66 507.53,110.69 507.77,109.71 508.02,108.74 508.26,107.77 508.50,106.80 508.75,105.83 508.99,104.86 509.23,103.89 509.48,102.93 509.72,101.96 509.97,100.99 510.21,100.02 510.46,99.05 510.71,98.09 510.95,97.12 511.20,96.15 511.45,95.19 511.70,94.22 511.95,93.26 512.20,92.30 512.45,91.33 512.70,90.37 512.96,89.41 513.21,88.44 513.46,87.48 513.72,86.52 513.98,85.56 514.24,84.60 514.50,83.64 514.76,82.68 515.02,81.72 515.28,80.77 515.55,79.81 515.81,78.85 516.08,77.90 516.35,76.94 516.62,75.99 516.90,75.04 517.17,74.08 517.45,73.13 517.73,72.18 518.01,71.23 518.29,70.28 518.58,69.33 518.87,68.39 519.15,67.44 519.45,66.49 519.74,65.55 520.04,64.60 520.34,63.66 520.64,62.72 520.94,61.77 521.25,60.83 521.56,59.89 521.87,58.95 522.18,58.02 522.50,57.08 522.82,56.14 523.14,55.21 523.47,54.27 523.80,53.34 524.13,52.41 524.47,51.48 524.81,50.55 525.15,49.62 525.50,48.69 525.84,47.76 526.20,46.84 526.55,45.91 526.91,44.99 527.28,44.07 527.64,43.14 528.01,42.22 528.39,41.31 528.77,40.39 529.15,39.47 529.53,38.56 529.92,37.64 530.32,36.73 530.72,35.82 531.12,34.91 531.53,34.00 531.94,33.09 532.35,32.19 532.77,31.28 533.20,30.38 533.62,29.47 534.06,28.57 534.50,27.67 534.94,26.78 535.39,25.88 535.84,24.98 536.30,24.09 536.76,23.20 537.23,22.31 537.70,21.42 538.18,20.53 538.66,19.64 539.15,18.76 539.64,17.87 540.14,16.99 540.64,16.11 541.15,15.23 541.66,14.36 542.18,13.48" class="cg"/>
<path d="M52.8,29.8 H94.0" class="cb"/>
<text x="97.6" y="31.0" class="lg bt">β</text>
<text x="107.5" y="32.4" class="lg eq">=</text>
<text x="118.6" y="31.0" class="lg num">0.5</text>
<path d="M52.8,44.1 H94.0" class="cr"/>
<text x="97.6" y="45.9" class="lg bt">β</text>
<text x="107.5" y="47.3" class="lg eq">=</text>
<text x="118.6" y="45.9" class="lg num">0.2</text>
<path d="M52.8,58.5 H94.0" class="cg"/>
<text x="97.6" y="60.8" class="lg bt">β</text>
<text x="107.5" y="62.2" class="lg eq">=</text>
<text x="118.6" y="60.8" class="lg num">0</text>
<path d="M352.3,27.5 H393.5" class="cb"/>
<text x="396.8" y="29.9" class="lg bt">β</text>
<text x="406.7" y="31.3" class="lg eq">=</text>
<text x="417.8" y="29.9" class="lg num">0.5</text>
<path d="M352.3,41.9 H393.5" class="cr"/>
<text x="396.8" y="44.5" class="lg bt">β</text>
<text x="406.7" y="45.9" class="lg eq">=</text>
<text x="417.8" y="44.5" class="lg num">0.2</text>
<path d="M352.3,56.3 H393.5" class="cg"/>
<text x="396.8" y="59.1" class="lg bt">β</text>
<text x="406.7" y="60.5" class="lg eq">=</text>
<text x="417.8" y="59.1" class="lg num">0</text>
<text x="1.8" y="30.5" class="sg">σ</text><text x="4.1" y="28.5" class="hat">ˆ</text><text x="10.6" y="33" class="sub">r</text>
<text x="303.4" y="33.8" class="sg">σ</text><text x="305.5" y="32.2" class="hat">ˆ</text><text x="312.0" y="37.6" class="sub th">ϑ</text>
<text x="212.4" y="249.8" class="rl">r</text>
<text x="512.4" y="249.8" class="rl">r</text>
<text x="55.9" y="215.2" class="fl" textLength="26.0" lengthAdjust="spacingAndGlyphs">F-LS</text><text x="85.6" y="215.2" class="fl" textLength="15.2" lengthAdjust="spacingAndGlyphs">(r)</text>
<text x="355.9" y="215.2" class="fl" textLength="26.0" lengthAdjust="spacingAndGlyphs">F-LS</text><text x="385.6" y="215.2" class="fl" textLength="15.2" lengthAdjust="spacingAndGlyphs">(r)</text>
<text x="118.4" y="268.8" class="ab">(<tspan>a</tspan>)</text>
<text x="417.6" y="268.8" class="ab">(<tspan>b</tspan>)</text>
</svg>
</body></html>
